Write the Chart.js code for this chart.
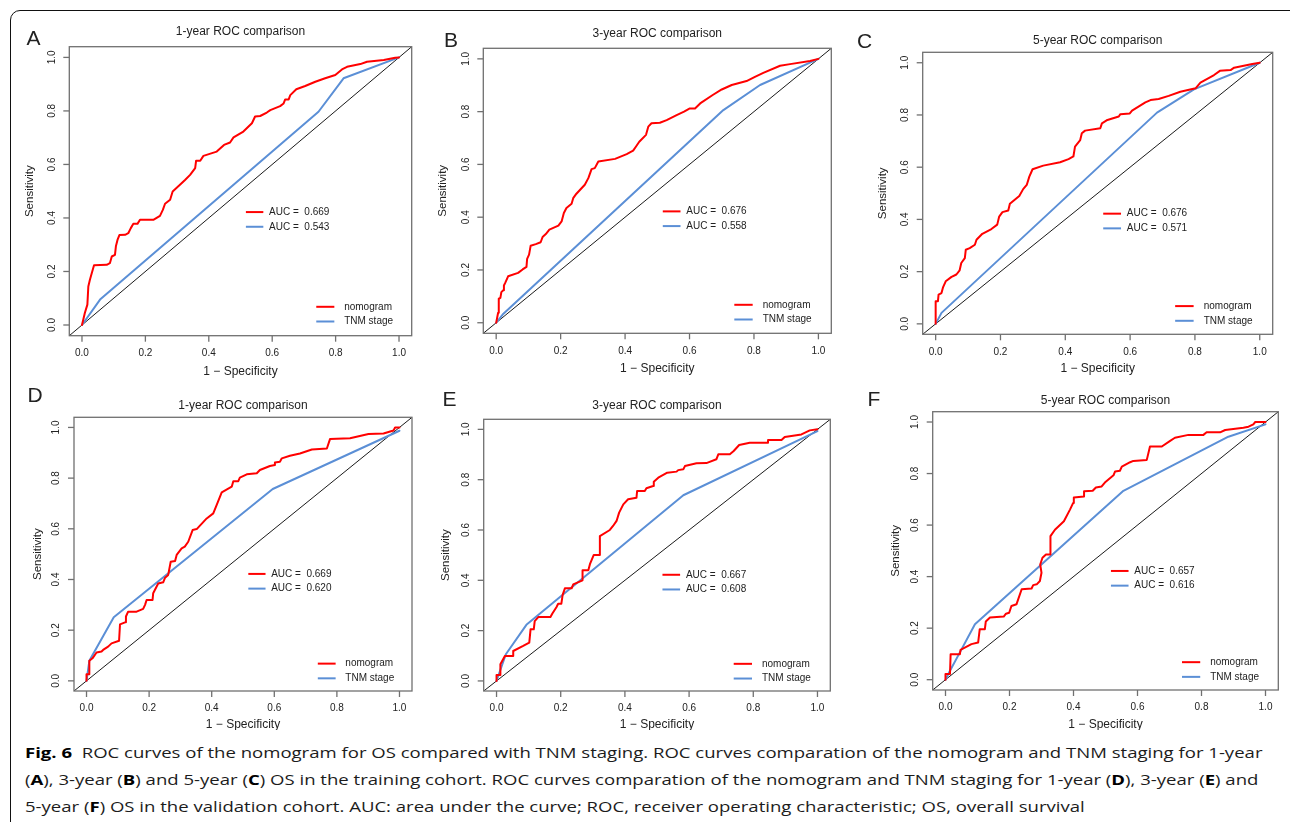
<!DOCTYPE html>
<html>
<head>
<meta charset="utf-8">
<script src="https://cdn.jsdelivr.net/npm/chart.js@4.4.0/dist/chart.umd.min.js"></script>
<style>
  html, body { margin: 0; padding: 0; background: #fff; }
  body { width: 1290px; height: 822px; overflow: hidden; position: relative; }
  .frame {
    position: absolute; left: 10px; top: 10px; width: 1290px; height: 900px;
    border: 1px solid #111; border-radius: 10px; box-sizing: border-box;
  }
  canvas.panel { position: absolute; }
  .caption {
    position: absolute; left: 25px; top: 739px;
    font-family: "Open Sans", "Noto Sans", sans-serif; font-size: 14.6px; line-height: 27px;
    color: #1c1c1c; white-space: nowrap;
  }
  .caption .ln { transform-origin: 0 0; }
  .caption b { font-weight: 700; color: #000; }
</style>
</head>
<body>
<div class="frame"></div>
<div id="panels"></div>
<div class="caption">
  <div class="ln"><b>Fig. 6</b>&nbsp; ROC curves of the nomogram for OS compared with TNM staging. ROC curves comparation of the nomogram and TNM staging for 1-year</div>
  <div class="ln">(<b>A</b>), 3-year (<b>B</b>) and 5-year (<b>C</b>) OS in the training cohort. ROC curves comparation of the nomogram and TNM staging for 1-year (<b>D</b>), 3-year (<b>E</b>) and</div>
  <div class="ln">5-year (<b>F</b>) OS in the validation cohort. AUC: area under the curve; ROC, receiver operating characteristic; OS, overall survival</div>
</div>
<script>
// ---- data: [1 - specificity, sensitivity] pairs per panel ----
const nomogramA = [[0,0],[0.004,0.020],[0.009,0.045],[0.017,0.076],[0.020,0.144],[0.025,0.169],[0.031,0.194],[0.038,0.223],[0.078,0.225],[0.088,0.231],[0.094,0.256],[0.104,0.262],[0.107,0.294],[0.112,0.318],[0.118,0.336],[0.136,0.337],[0.146,0.343],[0.154,0.362],[0.162,0.378],[0.175,0.378],[0.183,0.393],[0.225,0.393],[0.246,0.408],[0.255,0.430],[0.262,0.453],[0.278,0.468],[0.286,0.499],[0.309,0.524],[0.325,0.542],[0.341,0.561],[0.357,0.586],[0.360,0.614],[0.373,0.614],[0.383,0.632],[0.425,0.648],[0.448,0.673],[0.467,0.682],[0.478,0.701],[0.509,0.723],[0.536,0.754],[0.546,0.779],[0.562,0.781],[0.583,0.794],[0.594,0.803],[0.625,0.818],[0.636,0.828],[0.641,0.843],[0.652,0.843],[0.657,0.859],[0.676,0.881],[0.704,0.893],[0.736,0.909],[0.767,0.922],[0.799,0.934],[0.820,0.955],[0.836,0.965],[0.878,0.975],[0.899,0.984],[0.952,0.990],[0.988,0.999],[1,1]];
const tnmA = [[0,0],[0.057,0.095],[0.746,0.797],[0.825,0.922],[1,1]];

const nomogramB = [[0,0],[0.003,0.019],[0.006,0.038],[0.008,0.091],[0.013,0.094],[0.016,0.116],[0.022,0.123],[0.024,0.141],[0.028,0.151],[0.037,0.176],[0.068,0.189],[0.082,0.202],[0.094,0.212],[0.096,0.242],[0.102,0.258],[0.107,0.292],[0.123,0.298],[0.138,0.305],[0.144,0.325],[0.154,0.336],[0.165,0.353],[0.193,0.368],[0.203,0.384],[0.210,0.416],[0.218,0.435],[0.234,0.451],[0.239,0.472],[0.249,0.489],[0.275,0.523],[0.286,0.548],[0.296,0.582],[0.306,0.586],[0.317,0.611],[0.369,0.621],[0.405,0.639],[0.425,0.652],[0.434,0.668],[0.444,0.686],[0.465,0.712],[0.472,0.743],[0.482,0.756],[0.508,0.758],[0.529,0.768],[0.560,0.787],[0.583,0.800],[0.601,0.812],[0.617,0.812],[0.633,0.831],[0.672,0.863],[0.700,0.884],[0.731,0.901],[0.777,0.916],[0.803,0.932],[0.829,0.947],[0.881,0.974],[0.912,0.980],[0.974,0.992],[1,1]];
const tnmB = [[0,0],[0.020,0.031],[0.705,0.806],[0.819,0.901],[1,1]];

const nomogramC = [[0,0],[0,0.087],[0.007,0.087],[0.009,0.112],[0.018,0.118],[0.023,0.141],[0.031,0.163],[0.049,0.180],[0.064,0.189],[0.074,0.205],[0.079,0.233],[0.090,0.252],[0.093,0.284],[0.105,0.290],[0.121,0.303],[0.126,0.322],[0.144,0.345],[0.172,0.363],[0.190,0.380],[0.196,0.411],[0.206,0.428],[0.224,0.434],[0.229,0.460],[0.258,0.490],[0.270,0.516],[0.281,0.532],[0.289,0.564],[0.299,0.592],[0.332,0.606],[0.384,0.619],[0.410,0.631],[0.425,0.641],[0.430,0.679],[0.446,0.704],[0.451,0.730],[0.461,0.740],[0.508,0.749],[0.513,0.768],[0.530,0.781],[0.565,0.794],[0.570,0.803],[0.599,0.806],[0.606,0.817],[0.647,0.848],[0.663,0.857],[0.688,0.861],[0.719,0.873],[0.755,0.889],[0.802,0.902],[0.817,0.924],[0.859,0.953],[0.877,0.969],[0.910,0.972],[0.921,0.981],[0.977,0.995],[1,1]];
const tnmC = [[0,0],[0.018,0.042],[0.683,0.809],[0.797,0.898],[1,1]];

const nomogramD = [[0,0],[0,0.026],[0.009,0.026],[0.009,0.079],[0.019,0.089],[0.032,0.112],[0.048,0.116],[0.053,0.122],[0.069,0.135],[0.080,0.148],[0.104,0.158],[0.107,0.223],[0.123,0.231],[0.126,0.254],[0.133,0.273],[0.160,0.273],[0.181,0.284],[0.187,0.300],[0.192,0.319],[0.211,0.319],[0.213,0.346],[0.229,0.384],[0.245,0.389],[0.251,0.407],[0.261,0.418],[0.269,0.470],[0.283,0.473],[0.288,0.497],[0.304,0.523],[0.314,0.530],[0.325,0.549],[0.339,0.595],[0.352,0.599],[0.384,0.641],[0.405,0.661],[0.416,0.694],[0.432,0.744],[0.464,0.766],[0.469,0.788],[0.485,0.788],[0.490,0.802],[0.512,0.815],[0.544,0.819],[0.554,0.832],[0.586,0.848],[0.602,0.852],[0.602,0.862],[0.618,0.865],[0.624,0.878],[0.650,0.888],[0.682,0.897],[0.720,0.913],[0.768,0.917],[0.778,0.954],[0.842,0.957],[0.901,0.974],[0.949,0.976],[0.981,0.988],[0.986,1],[1,1]];
const tnmD = [[0,0],[0.009,0.079],[0.087,0.251],[0.595,0.757],[1,0.987]];

const nomogramE = [[0,0],[0,0.024],[0.012,0.024],[0.012,0.066],[0.026,0.099],[0.052,0.099],[0.052,0.119],[0.083,0.139],[0.102,0.152],[0.106,0.205],[0.116,0.205],[0.119,0.238],[0.130,0.254],[0.168,0.254],[0.174,0.268],[0.187,0.294],[0.192,0.307],[0.202,0.307],[0.206,0.342],[0.213,0.368],[0.234,0.368],[0.239,0.384],[0.268,0.400],[0.268,0.440],[0.286,0.440],[0.291,0.464],[0.303,0.501],[0.320,0.501],[0.322,0.576],[0.353,0.600],[0.363,0.616],[0.374,0.636],[0.382,0.669],[0.395,0.702],[0.410,0.722],[0.436,0.728],[0.438,0.755],[0.462,0.755],[0.467,0.766],[0.488,0.775],[0.490,0.792],[0.504,0.808],[0.532,0.828],[0.561,0.832],[0.566,0.838],[0.582,0.841],[0.587,0.854],[0.623,0.865],[0.654,0.866],[0.685,0.881],[0.691,0.901],[0.727,0.901],[0.739,0.914],[0.756,0.938],[0.789,0.947],[0.846,0.947],[0.846,0.958],[0.888,0.958],[0.898,0.970],[0.950,0.980],[0.976,0.996],[1,1]];
const tnmE = [[0,0],[0.029,0.106],[0.093,0.223],[0.582,0.738],[1,0.993]];

const nomogramF = [[0,0],[0,0.022],[0.014,0.022],[0.016,0.099],[0.045,0.099],[0.047,0.116],[0.081,0.138],[0.102,0.144],[0.107,0.196],[0.123,0.196],[0.126,0.226],[0.139,0.241],[0.182,0.245],[0.189,0.256],[0.199,0.260],[0.206,0.286],[0.222,0.293],[0.238,0.351],[0.269,0.354],[0.274,0.367],[0.285,0.370],[0.295,0.383],[0.300,0.415],[0.296,0.447],[0.303,0.473],[0.314,0.486],[0.328,0.486],[0.328,0.557],[0.342,0.582],[0.370,0.615],[0.389,0.660],[0.399,0.686],[0.401,0.707],[0.433,0.711],[0.433,0.731],[0.460,0.733],[0.470,0.746],[0.488,0.750],[0.498,0.765],[0.525,0.793],[0.530,0.808],[0.545,0.811],[0.551,0.827],[0.577,0.844],[0.587,0.849],[0.629,0.853],[0.639,0.905],[0.676,0.905],[0.702,0.927],[0.717,0.939],[0.759,0.950],[0.806,0.950],[0.816,0.960],[0.858,0.960],[0.874,0.969],[0.931,0.978],[0.947,0.982],[0.962,0.991],[0.968,1],[1,1]];
const tnmF = [[0,0],[0.014,0.035],[0.045,0.106],[0.092,0.215],[0.556,0.733],[0.884,0.943],[1,0.991]];

const panelLetters = ['A', 'B', 'C', 'D', 'E', 'F'];
const panelTitles = ['1-year ROC comparison', '3-year ROC comparison', '5-year ROC comparison',
                     '1-year ROC comparison', '3-year ROC comparison', '5-year ROC comparison'];
const aucNomogram = ['0.669', '0.676', '0.676', '0.669', '0.667', '0.657'];
const aucTnm = ['0.543', '0.558', '0.571', '0.620', '0.608', '0.616'];
const seriesNames = ['nomogram', 'TNM stage'];
const axisTicks = [0, 0.2, 0.4, 0.6, 0.8, 1];
const diagonal = [-1, 2];

const nomogramSeries = [nomogramA, nomogramB, nomogramC, nomogramD, nomogramE, nomogramF];
const tnmSeries = [tnmA, tnmB, tnmC, tnmD, tnmE, tnmF];

// ---- styling ----
const RED = '#ff0000';
const BLUE = '#5b8fd6';
const INK = '#222222';
const BOX = '#707070';
const FONT = '"Liberation Sans", Arial, sans-serif';

// canvas rect [left, top, width, height], plot box [left, top, right, bottom] in page pixels
const layout = [
  { canvas: [14, 14, 414, 370],  box: [69.3, 46.7, 411.7, 335.7],   letter: [26.5, 45],    titleY: 32,    xlab: 36,   ylab: 39 },
  { canvas: [428, 14, 428, 370], box: [483.3, 48.3, 831.3, 333.3],  letter: [444, 46.7],   titleY: 34,    xlab: 35.7, ylab: 40 },
  { canvas: [856, 14, 434, 370], box: [922.7, 52.3, 1272.7, 334.3], letter: [857, 48],     titleY: 40.7,  xlab: 34.7, ylab: 39.4 },
  { canvas: [14, 384, 414, 346], box: [74, 417.3, 412, 691],        letter: [27.5, 401.7], titleY: 406,   xlab: 33.3, ylab: 36.5 },
  { canvas: [428, 384, 428, 346], box: [483.7, 419.3, 830.3, 691],  letter: [442.5, 405.7], titleY: 406,  xlab: 33.3, ylab: 38 },
  { canvas: [856, 384, 434, 346], box: [932.7, 411.7, 1278.3, 690], letter: [867.5, 405.7], titleY: 400.3, xlab: 34.3, ylab: 37 }
];

const toPoints = pairs => pairs.map(([x, y]) => ({ x, y }));

// R-style frame: box, outward ticks, rotated y labels, title, panel letter and two legends
const rFrame = {
  id: 'rFrame',
  afterDatasetsDraw(chart, args, opts) {
    const { ctx, chartArea: a, scales: { x, y } } = chart;
    const L = opts.layout;
    const ox = L.canvas[0], oy = L.canvas[1];
    ctx.save();

    ctx.strokeStyle = BOX;
    ctx.lineWidth = 1.3;
    ctx.strokeRect(a.left, a.top, a.right - a.left, a.bottom - a.top);

    ctx.fillStyle = INK;
    ctx.font = '10px ' + FONT;
    ctx.textAlign = 'center';
    ctx.textBaseline = 'middle';
    axisTicks.forEach(v => {
      const px = x.getPixelForValue(v);
      ctx.beginPath();
      ctx.moveTo(px, a.bottom);
      ctx.lineTo(px, a.bottom + 6);
      ctx.stroke();
      ctx.fillText(v.toFixed(1), px, a.bottom + 17.5);

      const py = y.getPixelForValue(v);
      ctx.beginPath();
      ctx.moveTo(a.left, py);
      ctx.lineTo(a.left - 6, py);
      ctx.stroke();
      ctx.save();
      ctx.translate(a.left - 17.5, py);
      ctx.rotate(-Math.PI / 2);
      ctx.fillText(v.toFixed(1), 0, 0);
      ctx.restore();
    });

    // axis titles
    const cx = (a.left + a.right) / 2;
    ctx.font = '12px ' + FONT;
    ctx.fillText('1 \u2212 Specificity', cx, a.bottom + L.xlab);
    ctx.save();
    ctx.translate(a.left - L.ylab, (a.top + a.bottom) / 2);
    ctx.rotate(-Math.PI / 2);
    ctx.font = '11.5px ' + FONT;
    ctx.fillText('Sensitivity', 0, 0);
    ctx.restore();

    // panel title and letter
    ctx.font = '12px ' + FONT;
    ctx.fillText(opts.title, cx, L.titleY - oy);
    ctx.font = '21px ' + FONT;
    ctx.textAlign = 'left';
    ctx.textBaseline = 'alphabetic';
    ctx.fillText(opts.letter, L.letter[0] - ox, L.letter[1] - oy);

    // legends
    ctx.font = '10px ' + FONT;
    ctx.textBaseline = 'middle';
    ctx.lineWidth = 2;
    ctx.lineCap = 'butt';
    const legend = (x0, x1, xt, yv, rows) => {
      const p0 = x.getPixelForValue(x0), p1 = x.getPixelForValue(x1), pt = x.getPixelForValue(xt);
      const py = y.getPixelForValue(yv);
      rows.forEach((r, i) => {
        const yy = py + i * 14.7;
        ctx.strokeStyle = r.color;
        ctx.beginPath();
        ctx.moveTo(p0, yy);
        ctx.lineTo(p1, yy);
        ctx.stroke();
        ctx.fillText(r.text, pt, yy);
      });
    };
    legend(0.517, 0.572, 0.59, 0.422, [
      { color: RED, text: 'AUC =  ' + opts.auc[0] },
      { color: BLUE, text: 'AUC =  ' + opts.auc[1] }
    ]);
    legend(0.739, 0.796, 0.827, 0.068, [
      { color: RED, text: seriesNames[0] },
      { color: BLUE, text: seriesNames[1] }
    ]);
    ctx.restore();
  }
};

const holder = document.getElementById('panels');

layout.forEach((L, i) => {
  const cv = document.createElement('canvas');
  cv.className = 'panel';
  cv.width = L.canvas[2];
  cv.height = L.canvas[3];
  cv.style.left = L.canvas[0] + 'px';
  cv.style.top = L.canvas[1] + 'px';
  holder.appendChild(cv);

  const [cl, ct, cw, ch] = L.canvas;
  const [bl, bt, br, bb] = L.box;

  new Chart(cv, {
    type: 'scatter',
    data: {
      datasets: [
        {
          label: seriesNames[0],
          data: toPoints(nomogramSeries[i]),
          showLine: true,
          borderColor: RED,
          borderWidth: 2,
          borderCapStyle: 'round',
          borderJoinStyle: 'round',
          pointRadius: 0,
          tension: 0
        },
        {
          label: seriesNames[1],
          data: toPoints(tnmSeries[i]),
          showLine: true,
          borderColor: BLUE,
          borderWidth: 2,
          borderCapStyle: 'round',
          borderJoinStyle: 'round',
          pointRadius: 0,
          tension: 0
        },
        {
          label: 'chance',
          data: diagonal.map(v => ({ x: v, y: v })),
          showLine: true,
          borderColor: '#1a1a1a',
          borderWidth: 1,
          pointRadius: 0,
          clip: 0
        }
      ]
    },
    options: {
      responsive: false,
      animation: false,
      layout: {
        padding: { left: bl - cl, top: bt - ct, right: cl + cw - br, bottom: ct + ch - bb }
      },
      scales: {
        x: { type: 'linear', min: -0.04, max: 1.04, display: false },
        y: { type: 'linear', min: -0.04, max: 1.04, display: false }
      },
      plugins: {
        legend: { display: false },
        tooltip: { enabled: false },
        rFrame: { layout: L, title: panelTitles[i], letter: panelLetters[i], auc: [aucNomogram[i], aucTnm[i]] }
      }
    },
    plugins: [rFrame]
  });
});

// caption lines share one horizontal squeeze so the first line spans the frame width
const lines = document.querySelectorAll('.caption .ln');
const squeeze = 1238 / lines[0].scrollWidth;
lines.forEach(el => { el.style.transform = 'scaleX(' + squeeze + ')'; });
</script>
</body>
</html>
